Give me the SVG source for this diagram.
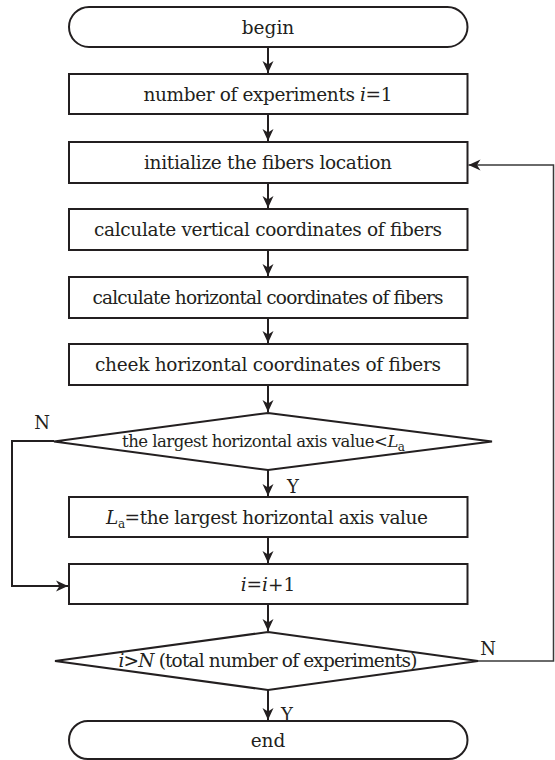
<svg xmlns="http://www.w3.org/2000/svg" width="555" height="760" viewBox="0 0 555 760">
<defs>
<style>
.n{fill:#fff;stroke:#231f20;stroke-width:2}
.t{font-family:"DejaVu Serif","Liberation Serif",serif;font-size:18.5px;fill:#231f20;text-anchor:middle}
.d{font-size:16.5px}
.l{font-family:"DejaVu Serif","Liberation Serif",serif;font-size:18px;fill:#231f20;text-anchor:middle}
.c{fill:none;stroke:#231f20;stroke-width:2}
.thin{fill:none;stroke:#3a3a3a;stroke-width:1.5}
.sub{font-size:12px}
</style>
<marker id="ah" markerUnits="userSpaceOnUse" markerWidth="14" markerHeight="12" refX="12" refY="6" orient="auto"><path d="M0,0.5 L12,6 L0,11.5 L3.5,6 Z" fill="#231f20"/></marker>
</defs>
<rect width="555" height="760" fill="#fff"/>
<g id="connectors">
<line class="c" x1="268" y1="47" x2="268" y2="73" marker-end="url(#ah)"/>
<line class="c" x1="268" y1="114" x2="268" y2="141" marker-end="url(#ah)"/>
<line class="c" x1="268" y1="183" x2="268" y2="208" marker-end="url(#ah)"/>
<line class="c" x1="268" y1="250" x2="268" y2="276" marker-end="url(#ah)"/>
<line class="c" x1="268" y1="318" x2="268" y2="343" marker-end="url(#ah)"/>
<line class="c" x1="268" y1="385" x2="268" y2="412" marker-end="url(#ah)"/>
<line class="c" x1="268" y1="470" x2="268" y2="496" marker-end="url(#ah)"/>
<line class="c" x1="268" y1="537" x2="268" y2="563" marker-end="url(#ah)"/>
<line class="c" x1="268" y1="604" x2="268" y2="631" marker-end="url(#ah)"/>
<line class="c" x1="268" y1="690" x2="268" y2="720" marker-end="url(#ah)"/>
<polyline class="c" points="54,441 12,441 12,586 68,586" marker-end="url(#ah)"/>
<polyline class="thin" points="478,661 553.5,661 553.5,165 468.5,165" marker-end="url(#ah)"/>
<text class="l" x="42" y="429">N</text>
<text class="l" x="293" y="493">Y</text>
<text class="l" x="488" y="655">N</text>
<text class="l" x="287" y="721">Y</text>
</g>
<g id="begin">
<rect class="n" x="69" y="7" width="398.5" height="40" rx="20"/>
<text class="t" x="268" y="33.5">begin</text>
</g>
<g id="init-i">
<rect class="n" x="69" y="74" width="398.5" height="40"/>
<text class="t" x="268" y="100.5" textLength="249">number of experiments <tspan font-style="italic">i</tspan>=1</text>
</g>
<g id="init-fibers">
<rect class="n" x="69" y="142" width="398.5" height="41"/>
<text class="t" x="268" y="169" textLength="248">initialize the fibers location</text>
</g>
<g id="calc-vertical">
<rect class="n" x="69" y="209" width="398.5" height="41"/>
<text class="t" x="268" y="236" textLength="348">calculate vertical coordinates of fibers</text>
</g>
<g id="calc-horizontal">
<rect class="n" x="69" y="277" width="398.5" height="41"/>
<text class="t" x="268" y="304" textLength="351">calculate horizontal coordinates of fibers</text>
</g>
<g id="check-horizontal">
<rect class="n" x="69" y="344" width="398.5" height="41"/>
<text class="t" x="268" y="371" textLength="346">cheek horizontal coordinates of fibers</text>
</g>
<g id="decision-largest">
<polygon class="n" points="268,413 492,441.5 268,470 54,441.5"/>
<text class="t d" x="263.5" y="447" textLength="283">the largest horizontal axis value&lt;<tspan font-style="italic">L</tspan><tspan class="sub" dy="4">a</tspan></text>
</g>
<g id="set-La">
<rect class="n" x="69" y="497" width="398.5" height="40"/>
<text class="t" x="267" y="523.5" textLength="322"><tspan font-style="italic">L</tspan><tspan class="sub" dy="4">a</tspan><tspan dy="-4">=the largest horizontal axis value</tspan></text>
</g>
<g id="increment">
<rect class="n" x="69" y="564" width="398.5" height="40"/>
<text class="t" x="268" y="590.5"><tspan font-style="italic">i</tspan>=<tspan font-style="italic">i</tspan>+1</text>
</g>
<g id="decision-N">
<polygon class="n" points="268,632 478,661 268,690 55,661"/>
<text class="t" x="268" y="667" textLength="299"><tspan font-style="italic">i</tspan>&gt;<tspan font-style="italic">N</tspan> (total number of experiments)</text>
</g>
<g id="end">
<rect class="n" x="69" y="721" width="398.5" height="38" rx="19"/>
<text class="t" x="268" y="746.5">end</text>
</g>
</svg>
